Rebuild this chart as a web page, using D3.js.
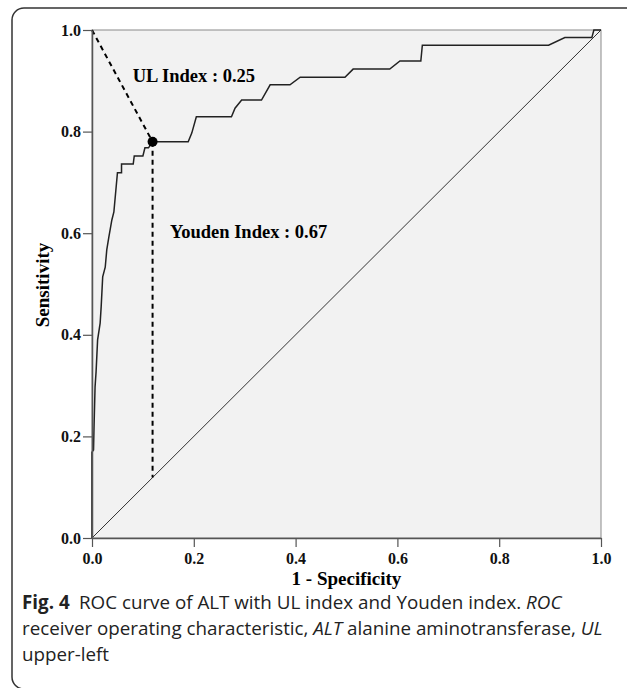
<!DOCTYPE html>
<html>
<head>
<meta charset="utf-8">
<script src="https://cdn.jsdelivr.net/npm/d3@7"></script>
<style>
  body { margin: 0; background: #fff; }
  svg { display: block; }
</style>
</head>
<body>
<div class="vis-roc"></div>
<script>
// ROC curve points (1 - specificity, sensitivity)
const fpr = [0, 0, 0.003, 0.004, 0.006, 0.008, 0.011, 0.016, 0.018, 0.021, 0.026, 0.029, 0.033, 0.039, 0.043,
  0.050, 0.058, 0.058, 0.081, 0.083, 0.100, 0.104, 0.111, 0.119, 0.189, 0.196, 0.205, 0.274, 0.281, 0.294,
  0.333, 0.350, 0.389, 0.409, 0.497, 0.513, 0.585, 0.605, 0.646, 0.649, 0.897, 0.929, 0.982, 0.986, 1];
const tpr = [0, 0.169, 0.173, 0.219, 0.297, 0.327, 0.390, 0.423, 0.455, 0.514, 0.533, 0.567, 0.592, 0.626, 0.642,
  0.719, 0.719, 0.736, 0.736, 0.752, 0.752, 0.768, 0.768, 0.780, 0.780, 0.797, 0.829, 0.829, 0.846, 0.862,
  0.862, 0.892, 0.892, 0.907, 0.907, 0.923, 0.923, 0.939, 0.939, 0.970, 0.970, 0.985, 0.985, 1, 1];
const cutoff = [0.119, 0.780];
const xTicks = [0, 0.2, 0.4, 0.6, 0.8, 1.0];
const yTicks = [0, 0.2, 0.4, 0.6, 0.8, 1.0];
const labels = ['UL Index : 0.25', 'Youden Index : 0.67'];

const W = 627, H = 688;
const margin = {top: 30, right: 26, bottom: 150, left: 92};
const width = W - margin.left - margin.right;
const height = H - margin.top - margin.bottom;
const serif = '"Liberation Serif", "Times New Roman", serif';

const root = d3.select('.vis-roc').append('svg')
  .attr('width', W).attr('height', H);

// outer figure frame
root.append('rect')
  .attr('x', 12).attr('y', 8).attr('width', 640).attr('height', 681)
  .attr('rx', 12).attr('fill', 'none').attr('stroke', '#333').attr('stroke-width', 1.5);

const svg = root.append('g')
  .attr('transform', 'translate(' + margin.left + ',' + margin.top + ')');

const x = d3.scaleLinear().domain([0, 1]).range([0, width]);
const y = d3.scaleLinear().domain([0, 1]).range([height, 0]);

svg.append('rect')
  .attr('width', width).attr('height', height)
  .attr('fill', '#f2f2f2').attr('stroke', '#8a8a8a').attr('stroke-width', 1);

// reference diagonal
svg.append('line')
  .attr('x1', x(0)).attr('y1', y(0)).attr('x2', x(1)).attr('y2', y(1))
  .attr('stroke', '#333').attr('stroke-width', 1);

// ROC curve
const pts = fpr.map((d, i) => [d, tpr[i]]);
svg.append('path')
  .datum(pts)
  .attr('fill', 'none').attr('stroke', '#222').attr('stroke-width', 1.5)
  .attr('d', d3.line().x(d => x(d[0])).y(d => y(d[1])));

// UL index line (to upper-left corner)
svg.append('line')
  .attr('x1', x(0)).attr('y1', y(1)).attr('x2', x(cutoff[0])).attr('y2', y(cutoff[1]))
  .attr('stroke', '#000').attr('stroke-width', 2).attr('stroke-dasharray', '5,4');

// Youden index line (down to the diagonal)
svg.append('line')
  .attr('x1', x(cutoff[0])).attr('y1', y(cutoff[1])).attr('x2', x(cutoff[0])).attr('y2', y(cutoff[0]))
  .attr('stroke', '#000').attr('stroke-width', 2).attr('stroke-dasharray', '5,4');

svg.append('circle')
  .attr('cx', x(cutoff[0])).attr('cy', y(cutoff[1])).attr('r', 5).attr('fill', '#000');

svg.append('text')
  .attr('x', x(0.08)).attr('y', y(0.898))
  .style('font-family', serif).style('font-weight', 'bold').style('font-size', '18.5px')
  .text(labels[0]);
svg.append('text')
  .attr('x', x(0.153)).attr('y', y(0.59))
  .style('font-family', serif).style('font-weight', 'bold').style('font-size', '18.5px')
  .text(labels[1]);

// axes
const xAxis = svg.append('g')
  .attr('transform', 'translate(0,' + height + ')')
  .call(d3.axisBottom(x).tickValues(xTicks).tickFormat(d3.format('.1f')).tickSize(9).tickSizeOuter(0).tickPadding(6));
const yAxis = svg.append('g')
  .call(d3.axisLeft(y).tickValues(yTicks).tickFormat(d3.format('.1f')).tickSize(9).tickSizeOuter(0).tickPadding(2));

[xAxis, yAxis].forEach(a => {
  a.select('.domain').attr('stroke', '#555').attr('stroke-width', 1.5);
  a.selectAll('.tick line').attr('stroke', '#555').attr('stroke-width', 1.2);
  a.selectAll('.tick text')
    .style('font-family', serif).style('font-weight', 'bold').style('font-size', '16px').attr('fill', '#111');
});

svg.append('text')
  .attr('x', width / 2).attr('y', height + 47)
  .attr('text-anchor', 'middle')
  .style('font-family', serif).style('font-weight', 'bold').style('font-size', '19px')
  .text('1 - Specificity');

svg.append('text')
  .attr('transform', 'translate(-43,' + (height / 2 + 1) + ') rotate(-90)')
  .attr('text-anchor', 'middle')
  .style('font-family', serif).style('font-weight', 'bold').style('font-size', '19px')
  .text('Sensitivity');

// caption
const cap = root.append('text')
  .style('font-family', '"Open Sans", "Noto Sans", sans-serif').style('font-size', '18.8px').attr('fill', '#222');
const l1 = cap.append('tspan').attr('x', 22).attr('y', 609);
l1.append('tspan').style('font-weight', 'bold').text('Fig. 4');
l1.append('tspan').text('\u2002ROC curve of ALT with UL index and Youden index. ');
l1.append('tspan').style('font-style', 'italic').text('ROC');
const l2 = cap.append('tspan').attr('x', 22).attr('y', 635);
l2.append('tspan').text('receiver operating characteristic, ');
l2.append('tspan').style('font-style', 'italic').text('ALT');
l2.append('tspan').text(' alanine aminotransferase, ');
l2.append('tspan').style('font-style', 'italic').text('UL');
cap.append('tspan').attr('x', 22).attr('y', 661).text('upper-left');
</script>
</body>
</html>
